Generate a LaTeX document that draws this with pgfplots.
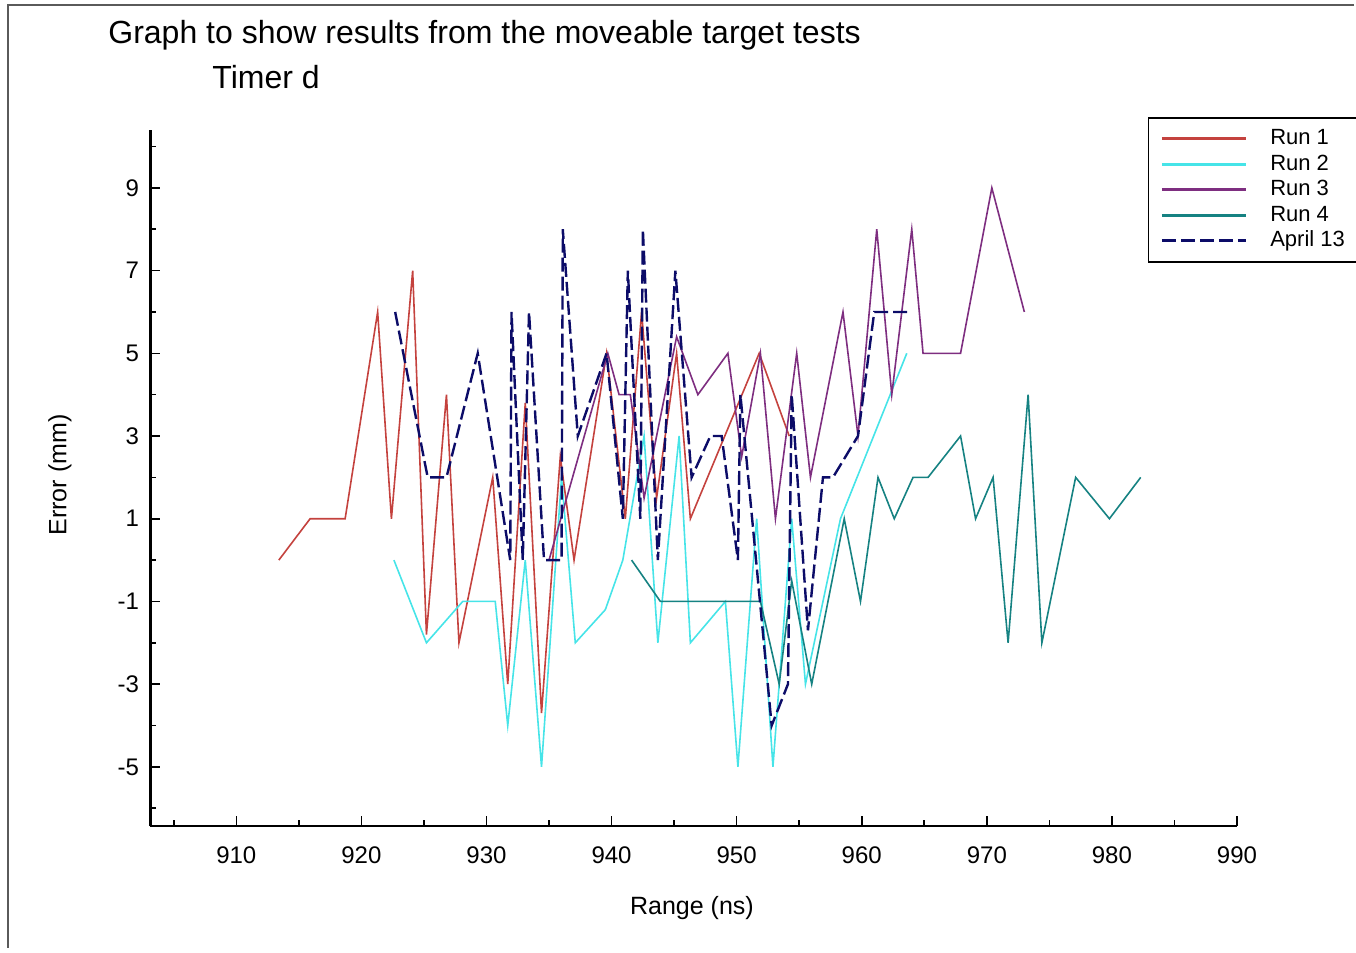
\documentclass[border=0pt]{standalone}
\usepackage{pgfplots}
\pgfplotsset{compat=1.18}
\usepackage{fontspec}
\setmainfont{Liberation Sans}
\definecolor{runA}{RGB}{196,66,62}
\definecolor{runB}{RGB}{70,228,232}
\definecolor{runC}{RGB}{126,46,128}
\definecolor{runD}{RGB}{22,130,130}
\definecolor{runE}{RGB}{12,12,104}
\definecolor{frame}{RGB}{90,90,90}
\begin{document}
\begin{tikzpicture}
\useasboundingbox (0,0) rectangle (678bp,476.5bp);
\draw[frame, line width=0.8bp] (677bp,474bp) -- (4bp,474bp) -- (4bp,2.5bp);
\node[anchor=west, inner sep=0pt, font=\fontsize{16bp}{18bp}\selectfont] at (54bp,459bp) {Graph to show results from the moveable target tests};
\node[anchor=west, inner sep=0pt, font=\fontsize{16bp}{18bp}\selectfont] at (106bp,438bp) {Timer d};
\begin{axis}[
  at={(75bp,63.5bp)}, anchor=south west,
  scale only axis, width=543.5bp, height=348bp,
  xmin=903.1, xmax=990, ymin=-6.43, ymax=10.4,
  axis x line*=bottom, axis y line*=left,
  x axis line style={line width=0.8bp},
  y axis line style={line width=1.5bp},
  tick align=inside,
  xtick={910,920,...,990},
  minor xtick={905,915,...,985},
  ytick={-5,-3,...,9},
  yticklabels={-5,-3,-1,1,3,5,7,9},
  xticklabels={910,920,930,940,950,960,970,980,990},
  minor ytick={-6,-4,...,10},
  major tick length=5bp, minor tick length=3bp,
  every tick/.style={black, line width=0.8bp},
  ticklabel style={font=\fontsize{12bp}{14bp}\selectfont},
  xticklabel style={yshift=-7bp},
  yticklabel style={xshift=-2bp},
  xlabel={Range (ns)}, ylabel={Error (mm)},
  label style={font=\fontsize{12.5bp}{14bp}\selectfont},
  xlabel style={at={(rel axis cs:0.4986,-0.1178)}, anchor=center},
  ylabel style={at={(rel axis cs:-0.0828,0.5043)}, anchor=center, rotate=0},
  legend style={at={(rel axis cs:0.918,1.0187)}, anchor=north west, draw=black, line width=0.8bp,
    font=\fontsize{11bp}{12bp}\selectfont, inner xsep=6bp, inner ysep=5bp, row sep=1.75bp,
    nodes={inner sep=0.5bp, text height=8bp, text depth=2bp},
    /tikz/every odd column/.append style={column sep=11bp}},
  legend cell align=left,
  legend image code/.code={\draw[#1, line width=1.3bp] (0bp,0bp) -- (42bp,0bp);},
  every axis plot/.append style={line width=0.8bp},
]
\addplot[runA] coordinates {
(913.4,0) (915.9,1) (918.7,1) (921.3,6) (922.4,1) (924.1,7) (925.2,-1.8) (926.8,4)
(927.8,-2) (930.5,2) (931.7,-3) (933.1,3.8) (934.4,-3.7) (935.9,2.5) (937.0,0) (939.6,5)
(941.1,1) (942.4,6) (943.6,1.5) (945.2,5) (946.3,1) (951.8,5) (954.2,3)};
\addlegendentry{Run 1}
\addplot[runB] coordinates {
(922.6,0) (925.2,-2) (928.1,-1) (930.7,-1) (931.7,-4) (933.1,0) (934.4,-5) (936.0,2)
(937.1,-2) (939.5,-1.2) (940.9,0) (942.6,3) (943.7,-2) (945.4,3) (946.3,-2) (949.1,-1)
(950.1,-5) (951.6,1) (952.9,-5) (954.4,1) (955.5,-3) (958.3,1) (963.6,5)};
\addlegendentry{Run 2}
\addplot[runC] coordinates {
(935.0,0) (939.7,5) (940.6,4) (941.5,4) (942.6,1.5) (945.2,5.4) (946.9,4) (949.3,5)
(950.4,2.5) (951.9,5) (953.1,1) (954.8,5) (955.9,2) (958.5,6) (959.7,3) (961.2,8)
(962.4,4) (964.0,8) (964.9,5) (967.9,5) (970.4,9) (973.0,6)};
\addlegendentry{Run 3}
\addplot[runD] coordinates {
(941.6,0) (943.9,-1) (951.9,-1) (953.4,-3) (954.4,-0.5) (956.0,-3) (958.6,1) (959.9,-1)
(961.3,2) (962.6,1) (964.1,2) (965.3,2) (967.9,3) (969.1,1) (970.5,2) (971.7,-2)
(973.3,4) (974.4,-2) (977.1,2) (979.8,1) (982.3,2)};
\addlegendentry{Run 4}
\addplot[runE, line width=1.2bp, dash pattern=on 7bp off 2.5bp] coordinates {
(922.7,6) (925.3,2) (926.8,2) (929.3,5) (931.9,0) (932.0,6) (932.9,0) (933.4,6)
(934.6,0) (936.0,0) (936.1,8) (937.3,3) (939.6,5) (940.9,1) (941.3,7) (942.3,1)
(942.5,8) (943.7,0) (945.1,7) (946.4,2) (947.9,3) (948.8,3) (950.1,0) (950.3,4)
(952.8,-4) (954.1,-3) (954.4,4) (955.7,-1.7) (956.9,2) (957.7,2) (959.7,3) (961.0,6) (963.8,6)};
\addlegendentry{April 13}
\end{axis}
\end{tikzpicture}
\end{document}
